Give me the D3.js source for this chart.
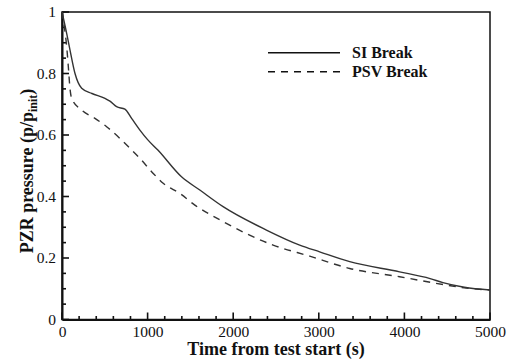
<!DOCTYPE html>
<html>
<head>
<meta charset="utf-8">
<script src="https://cdn.jsdelivr.net/npm/d3@7"></script>
<style>
  html, body { margin: 0; padding: 0; background: #fff; }
  svg { display: block; }
  svg text { font-family: "Liberation Serif", "Times New Roman", Times, serif; }
</style>
</head>
<body>
<svg id="chart" width="512" height="362"></svg>
<script>
// ---- data ----
const siTime  = [0, 55, 93, 152, 230, 350, 502, 560, 638, 735, 813, 910, 1000, 1120, 1396, 1610, 1882, 2388, 2777, 3010, 3361, 3944, 4300, 4450, 4700, 5000];
const siValue = [1.0, 0.93, 0.877, 0.80, 0.752, 0.735, 0.719, 0.71, 0.692, 0.684, 0.654, 0.616, 0.585, 0.551, 0.464, 0.421, 0.367, 0.291, 0.242, 0.220, 0.188, 0.155, 0.133, 0.12, 0.105, 0.096];
const psvTime  = [0, 27, 55, 74, 93, 113, 230, 385, 521, 793, 910, 1066, 1182, 1377, 1552, 1844, 2466, 2894, 3361, 3944, 4490, 4700, 5000];
const psvValue = [1.0, 0.952, 0.887, 0.822, 0.752, 0.719, 0.681, 0.654, 0.627, 0.557, 0.524, 0.475, 0.443, 0.410, 0.372, 0.324, 0.242, 0.206, 0.166, 0.139, 0.112, 0.103, 0.096];
const seriesNames = ["SI Break", "PSV Break"];
const xTicks = [0, 1000, 2000, 3000, 4000, 5000];
const yTicks = [0, 0.2, 0.4, 0.6, 0.8, 1];
const xLabel = "Time from test start (s)";

// ---- layout ----
const svg = d3.select("#chart");
const L = 62, R = 490, T = 12, B = 319.5;
const x = d3.scaleLinear().domain([0, 5000]).range([L, R]);
const y = d3.scaleLinear().domain([0, 1]).range([B, T]);
const ink = "#111";

// frame
svg.append("rect").attr("x", L).attr("y", T).attr("width", R - L).attr("height", B - T)
  .attr("fill", "none").attr("stroke", ink).attr("stroke-width", 1.5);

const xMinor = d3.range(0, 5001, 200).filter(v => v % 1000 !== 0);
const yMinor = d3.range(0, 1.0001, 0.05).map(v => +v.toFixed(2)).filter(v => Math.round(v * 100) % 20 !== 0);

// inward ticks
const tk = svg.append("g").attr("stroke", ink).attr("stroke-width", 1.6);
tk.selectAll("line.xM").data(xTicks).join("line").attr("class", "xM")
  .attr("x1", d => x(d)).attr("x2", d => x(d)).attr("y1", B).attr("y2", B - 7);
tk.selectAll("line.xm").data(xMinor).join("line").attr("class", "xm")
  .attr("x1", d => x(d)).attr("x2", d => x(d)).attr("y1", B).attr("y2", B - 3.5);
tk.selectAll("line.yM").data(yTicks).join("line").attr("class", "yM")
  .attr("y1", d => y(d)).attr("y2", d => y(d)).attr("x1", L).attr("x2", L + 7);
tk.selectAll("line.ym").data(yMinor).join("line").attr("class", "ym")
  .attr("y1", d => y(d)).attr("y2", d => y(d)).attr("x1", L).attr("x2", L + 4);

// axes (domain + labels)
const gx = svg.append("g").attr("transform", `translate(0,${B})`);
gx.call(d3.axisBottom(x).tickValues(xTicks).tickSize(0).tickPadding(6.5).tickFormat(d3.format("d")));
const gy = svg.append("g").attr("transform", `translate(${L},0)`);
gy.call(d3.axisLeft(y).tickValues(yTicks).tickSize(0).tickPadding(6).tickFormat(d => d === 0 || d === 1 ? d3.format("d")(d) : d3.format(".1f")(d)));
[gx, gy].forEach(g => {
  g.attr("font-family", null);
  g.selectAll("path.domain").attr("stroke", ink).attr("stroke-width", 2);
  g.selectAll("text").attr("font-size", "15.5px").attr("fill", ink);
});

// lines
const line = d3.line().x(d => x(d[0])).y(d => y(d[1])).curve(d3.curveMonotoneX);
const siData = siTime.map((t, i) => [t, siValue[i]]);
const psvData = psvTime.map((t, i) => [t, psvValue[i]]);

svg.append("path").datum(psvData).attr("d", line).attr("fill", "none")
  .attr("stroke", "#333").attr("stroke-width", 1.4).attr("stroke-dasharray", "7,6");
svg.append("path").datum(siData).attr("d", line).attr("fill", "none")
  .attr("stroke", "#333").attr("stroke-width", 1.4);

// legend
const lg = svg.append("g");
[["none", 52.7], ["7,6", 71.7]].forEach((s, i) => {
  lg.append("line").attr("x1", 268).attr("x2", 340).attr("y1", s[1]).attr("y2", s[1])
    .attr("stroke", ink).attr("stroke-width", 1.5).attr("stroke-dasharray", s[0]);
  lg.append("text").attr("x", 352).attr("y", s[1] + 5.5).text(seriesNames[i])
    .attr("font-weight", "bold").attr("font-size", "16px").attr("fill", ink);
});

// axis titles
svg.append("text").attr("x", (L + R) / 2).attr("y", 355).attr("text-anchor", "middle")
  .attr("font-weight", "bold").attr("font-size", "18px").attr("fill", ink)
  .text(xLabel);

const yt = svg.append("text").attr("transform", "translate(33,171) rotate(-90)").attr("text-anchor", "middle")
  .attr("font-weight", "bold").attr("font-size", "18px").attr("fill", ink);
yt.append("tspan").text("PZR pressure (p/p");
yt.append("tspan").attr("font-size", "12px").attr("dy", 4).text("init");
yt.append("tspan").attr("dy", -4).text(")");
</script>
</body>
</html>
